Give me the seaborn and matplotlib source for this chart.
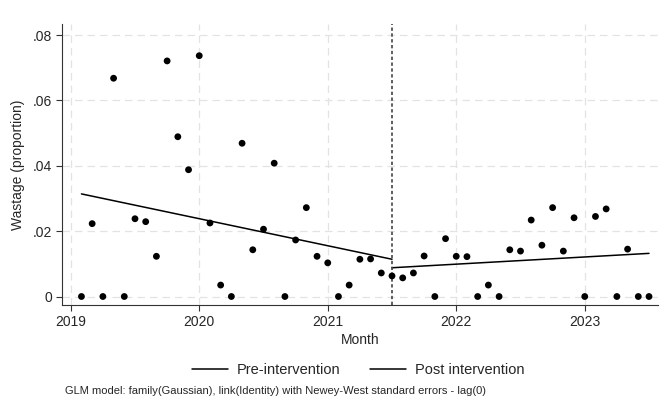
import matplotlib
matplotlib.use("Agg")
import matplotlib.pyplot as plt
import seaborn as sns
import numpy as np
import pandas as pd
from matplotlib.lines import Line2D

# ---- data ----
month_index = list(range(1, 55))  # months since Dec 2018
wastage = [0, 0.0223, 0, 0.0668, 0, 0.0238, 0.0229, 0.0123, 0.0721, 0.0489,
           0.0388, 0.0737, 0.0225, 0.0035, 0, 0.0469, 0.0143, 0.0206, 0.0408, 0,
           0.0173, 0.0272, 0.0123, 0.0103, 0, 0.0035, 0.0114, 0.0115, 0.0072, 0.0063,
           0.0057, 0.0072, 0.0124, 0, 0.0177, 0.0123, 0.0122, 0, 0.0035, 0,
           0.0143, 0.0139, 0.0234, 0.0157, 0.0272, 0.0139, 0.0241, 0, 0.0245, 0.0268,
           0, 0.0145, 0, 0]
pre_fit_months = [1, 30]
pre_fit_values = [0.0314, 0.0114]
post_fit_months = [30, 54]
post_fit_values = [0.0088, 0.0132]
intervention = 2021.5
x_ticks = [2019, 2020, 2021, 2022, 2023]
y_ticks = [0, 0.02, 0.04, 0.06, 0.08]
y_tick_labels = ["0", ".02", ".04", ".06", ".08"]
legend_labels = ["Pre-intervention", "Post intervention"]
note = "GLM model: family(Gaussian), link(Identity) with Newey-West standard errors - lag(0)"

to_year = lambda m: 2019 + np.asarray(m) / 12.0

df = pd.DataFrame({"x": to_year(month_index), "y": wastage})
fit = pd.DataFrame({
    "x": np.concatenate([to_year(pre_fit_months), to_year(post_fit_months)]),
    "y": pre_fit_values + post_fit_values,
    "seg": [legend_labels[0]] * 2 + [legend_labels[1]] * 2,
})

sns.set_style("white")
plt.rcParams["font.family"] = ["Liberation Sans", "DejaVu Sans"]

fig = plt.figure(figsize=(6.69, 4.05), dpi=100)
ax = fig.add_axes([62 / 669, 1 - 305 / 405, 596 / 669, 281 / 405])

# grid
for yt in y_ticks:
    ax.axhline(yt, color="#e3e3e3", lw=0.9, ls=(0, (6, 4)), zorder=0)
for xt in x_ticks:
    ax.axvline(xt, color="#e3e3e3", lw=0.9, ls=(0, (6, 4)), zorder=0)

sns.scatterplot(data=df, x="x", y="y", ax=ax, color="black", s=24,
                edgecolor="none", zorder=3, legend=False)
sns.lineplot(data=fit, x="x", y="y", hue="seg", palette=["black", "black"],
             ax=ax, lw=1.1, legend=False, zorder=2)
ax.axvline(intervention, color="#444444", lw=1.2, ls=(0, (2, 1.5)), zorder=2)

ax.set_xlim(2018.932, 2023.57)
ax.set_ylim(-0.0026, 0.0834)
ax.set_xticks(x_ticks)
ax.set_xticklabels([str(v) for v in x_ticks], fontsize=10)
ax.set_yticks(y_ticks)
ax.set_yticklabels(y_tick_labels, fontsize=10)
ax.tick_params(axis="both", direction="out", length=4, width=0.8, color="#333333",
               bottom=True, left=True, pad=3)
for s in ["top", "right"]:
    ax.spines[s].set_visible(False)
for s in ["left", "bottom"]:
    ax.spines[s].set_color("#333333")
    ax.spines[s].set_linewidth(0.8)

ax.set_xlabel("Month", fontsize=10, labelpad=3)
ax.set_ylabel("Wastage (proportion)", fontsize=10, labelpad=6)

handles = [Line2D([], [], color="black", lw=1.1) for _ in legend_labels]
fig.legend(handles, legend_labels, loc="center", ncol=2, frameon=False,
           bbox_to_anchor=(358 / 669, 1 - 370 / 405), fontsize=10.5,
           handlelength=2.5, columnspacing=2.0, handletextpad=0.6)

fig.text(65 / 669, 1 - 391 / 405, note, fontsize=8, va="center", ha="left")

fig.savefig("out.png", dpi=100, facecolor="white")
